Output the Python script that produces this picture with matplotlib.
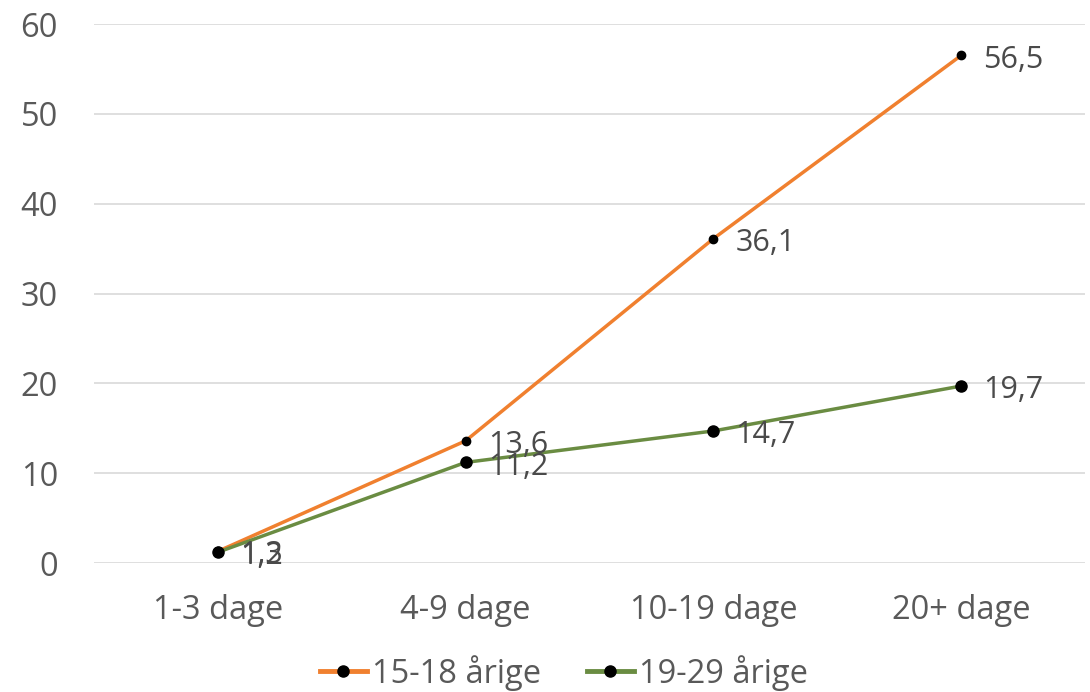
import matplotlib.pyplot as plt

plt.rcParams['font.family'] = ['Open Sans', 'DejaVu Sans']

# Data
categories = ["1-3 dage", "4-9 dage", "10-19 dage", "20+ dage"]
series_names = ["15-18 årige", "19-29 årige"]
vals_15_18 = [1.3, 13.6, 36.1, 56.5]
vals_19_29 = [1.2, 11.2, 14.7, 19.7]
yticks = [0, 10, 20, 30, 40, 50, 60]

colors = ["#F0802F", "#6A8C42"]
text_gray = "#595959"

fig = plt.figure(figsize=(10.9, 6.92), dpi=100)
ax = fig.add_axes([0.0862, 0.1864, 0.9092, 0.7789])

x = list(range(len(categories)))
for vals, name, col, ms in [(vals_15_18, series_names[0], colors[0], 6),
                            (vals_19_29, series_names[1], colors[1], 8)]:
    ax.plot(x, vals, color=col, lw=2.5, marker="o", ms=ms,
            mfc="black", mec="black", label=name, zorder=3, clip_on=False)
    for xi, v in zip(x, vals):
        ax.annotate(f"{v:.1f}".replace(".", ","), (xi, v), xytext=(16, -3),
                    textcoords="offset points", va="center", ha="left",
                    fontsize=22, color="#4A4A4A", zorder=4)

ax.set_xlim(-0.5, len(categories) - 0.5)
ax.set_ylim(0, 60)
ax.set_yticks(yticks)
ax.set_xticks(x)
ax.set_xticklabels(categories)
ax.tick_params(axis="both", length=0, labelsize=23.5, labelcolor=text_gray)
ax.tick_params(axis="y", pad=26)
ax.tick_params(axis="x", pad=22)
ax.grid(axis="y", color="#D9D9D9", lw=1.2)
ax.set_axisbelow(True)
for s in ax.spines.values():
    s.set_visible(False)

leg = ax.legend(loc="upper center", bbox_to_anchor=(0.474, -0.14), ncol=2,
                frameon=False, fontsize=23.5, labelcolor=text_gray,
                handlelength=1.45, handletextpad=0.15, columnspacing=1.4,
                borderpad=0)
for h in leg.legend_handles:
    h.set_linewidth(3.5)
    h.set_markersize(8)

fig.savefig("out.png", dpi=100)
